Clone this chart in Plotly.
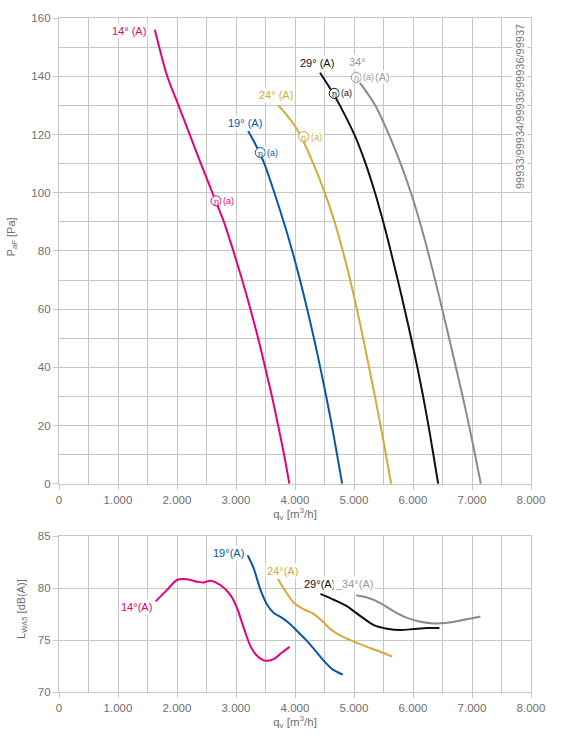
import plotly.graph_objects as go

# ---------------- data ----------------
x_tickvals = [0, 1000, 2000, 3000, 4000, 5000, 6000, 7000, 8000]
x_ticktext = ["0", "1.000", "2.000", "3.000", "4.000", "5.000", "6.000", "7.000", "8.000"]

angles = ["14°", "19°", "24°", "29°", "34°"]
colors = ["#e4007f", "#0b57a4", "#d4aa3c", "#111111", "#8a8a8a"]

# pressure curves  (q [m3/h], p [Pa])
q14 = [1624, 1835, 2025, 2215, 2405, 2600, 2795, 2955, 3105, 3245, 3375, 3495, 3610, 3715, 3815, 3905]
p14 = [156, 140, 130, 120, 110, 100, 90, 80, 70, 60, 50, 40, 30, 20, 10, 0]

q19 = [3205, 3320, 3480, 3650, 3808, 3953, 4085, 4207, 4321, 4428, 4529, 4625, 4713, 4800]
p19 = [121.2, 117, 110, 100, 90, 80, 70, 60, 50, 40, 30, 20, 10, 0]

q24 = [3720, 3925, 4085, 4310, 4505, 4670, 4810, 4935, 5050, 5155, 5255, 5355, 5450, 5542, 5630]
p24 = [130, 125, 120, 110, 100, 90, 80, 70, 60, 50, 40, 30, 20, 10, 0]

q29 = [4424, 4620, 4760, 5005, 5197, 5356, 5495, 5622, 5742, 5858, 5969, 6074, 6172, 6262, 6346, 6427]
p29 = [141.2, 135, 130, 120, 110, 100, 90, 80, 70, 60, 50, 40, 30, 20, 10, 0]

q34 = [5099, 5223, 5360, 5590, 5790, 5965, 6115, 6250, 6375, 6495, 6612, 6728, 6842, 6950, 7052, 7150]
p34 = [137.7, 134.3, 130, 120, 110, 100, 90, 80, 70, 60, 50, 40, 30, 20, 10, 0]

# sound power curves (q [m3/h], L_WA5 [dB(A)])
sq14 = [1638, 1831, 2000, 2170, 2339, 2452, 2565, 2735, 2904, 3017, 3130, 3243, 3356, 3497, 3639, 3780, 3910]
sl14 = [78.72, 79.83, 80.78, 80.85, 80.62, 80.53, 80.72, 80.3, 79.35, 78.1, 76.2, 74.44, 73.49, 73.01, 73.17, 73.8, 74.34]

sq19 = [3198, 3300, 3415, 3528, 3641, 3782, 3924, 4065, 4206, 4348, 4489, 4630, 4811]
sl19 = [83.16, 81.9, 79.83, 78.4, 77.6, 77.13, 76.5, 75.7, 74.9, 73.96, 73.0, 72.2, 71.67]

sq24 = [3709, 3839, 3980, 4150, 4319, 4461, 4602, 4771, 4941, 5167, 5393, 5647]
sl24 = [80.91, 79.7, 78.6, 77.96, 77.5, 76.84, 76.05, 75.42, 75.0, 74.47, 73.99, 73.42]

sq29 = [4432, 4658, 4884, 5110, 5336, 5562, 5788, 6014, 6240, 6449]
sl29 = [79.45, 78.88, 78.25, 77.3, 76.44, 76.09, 75.97, 76.06, 76.15, 76.15]

sq34 = [5037, 5223, 5449, 5675, 5901, 6127, 6353, 6579, 6805, 7144]
sl34 = [79.32, 79.1, 78.56, 77.77, 77.13, 76.76, 76.6, 76.66, 76.88, 77.26]

p_curves = [(q14, p14), (q19, p19), (q24, p24), (q29, p29), (q34, p34)]
s_curves = [(sq14, sl14), (sq19, sl19), (sq24, sl24), (sq29, sl29), (sq34, sl34)]

# label anchor positions (data coordinates)
p_label_pos = [(1500, 155.4), (3144, 124.1), (3675, 133.6), (4373, 144.5), (5051, 145.0)]
eta_pos = [(2661, 97.2), (3412, 113.8), (4146, 119.3), (4665, 134.1), (5039, 139.6)]
s_label_pos = [(1311, 78.15), (2870, 83.41), (3780, 81.67), (4407, 80.37), (5002, 80.37)]
s_label_text = ["14°(A)", "19°(A)", "24°(A)", "29°(A)", "_34°(A)"]
series_id = "99933/99934/99935/99936/99937"

# ---------------- figure ----------------
GRID = "#c6c6c6"
TXT = "#6f6f6f"
FONT = "Liberation Sans, Arial, sans-serif"

fig = go.Figure()
for (q, p), c in zip(p_curves, colors):
    fig.add_trace(go.Scatter(x=q, y=p, mode="lines", line=dict(color=c, width=2, shape="spline", smoothing=0.8),
                             xaxis="x", yaxis="y", showlegend=False, hoverinfo="skip"))
for (q, l), c in zip(s_curves, colors):
    fig.add_trace(go.Scatter(x=q, y=l, mode="lines", line=dict(color=c, width=2, shape="spline", smoothing=0.8),
                             xaxis="x2", yaxis="y2", showlegend=False, hoverinfo="skip"))

annotations = []
shapes = []

# top labels
for i, (a, c) in enumerate(zip(angles, colors)):
    x, y = p_label_pos[i]
    lc = "#9a9a9a" if i == 4 else c
    if i == 0:
        annotations.append(dict(x=x, y=y, xref="x", yref="y", text=a + " (A)", showarrow=False,
                                xanchor="right", font=dict(size=11, color=lc, family=FONT), bgcolor="white"))
    elif i == 4:
        annotations.append(dict(x=x, y=y, xref="x", yref="y", text=a, showarrow=False,
                                font=dict(size=11, color=lc, family=FONT), bgcolor="white"))
    else:
        annotations.append(dict(x=x, y=y, xref="x", yref="y", text=a + " (A)", showarrow=False,
                                font=dict(size=11, color=lc, family=FONT), bgcolor="white"))
    ex, ey = eta_pos[i]
    shapes.append(dict(type="circle", xref="x", yref="y", xsizemode="pixel", ysizemode="pixel",
                       xanchor=ex, yanchor=ey, x0=-5, x1=5, y0=-5, y1=5,
                       line=dict(color=lc, width=1), fillcolor="white", layer="above"))
    annotations.append(dict(x=ex, y=ey, xref="x", yref="y", text="η", showarrow=False, yshift=-1,
                            font=dict(size=9, color=lc, family=FONT)))
    annotations.append(dict(x=ex, y=ey, xref="x", yref="y", text="(a)", showarrow=False, xanchor="left",
                            xshift=5, font=dict(size=9, color=lc, family=FONT), bgcolor="white", borderpad=1))
    if i == 4:
        annotations.append(dict(x=ex, y=ey, xref="x", yref="y", text="(A)", showarrow=False, xanchor="left",
                                xshift=18, font=dict(size=11, color=lc, family=FONT), bgcolor="white", borderpad=0))

# bottom labels
for i, (t, c) in enumerate(zip(s_label_text, colors)):
    x, y = s_label_pos[i]
    annotations.append(dict(x=x, y=y, xref="x2", yref="y2", text=t, showarrow=False,
                            font=dict(size=11, color=("#9a9a9a" if i == 4 else c), family=FONT), bgcolor="white"))

# series id (inside the plot, next to the right border)
annotations.append(dict(x=0.98, y=0.8695, xref="paper", yref="paper", text=series_id, showarrow=False,
                        xshift=7, yshift=84,
                        textangle=-90, font=dict(size=11, color="#7a7a7a", family=FONT), bgcolor="white"))
# y titles
annotations.append(dict(x=0, y=0.6745, xref="paper", yref="paper", xshift=-47, text="P<sub>aF</sub> [Pa]",
                        xanchor="center", yanchor="middle",
                        showarrow=False, textangle=-90, font=dict(size=11, color=TXT, family=FONT)))
annotations.append(dict(x=0, y=0.1232, xref="paper", yref="paper", xshift=-37, text="L<sub>WA5</sub> [dB(A)]",
                        xanchor="center", yanchor="middle",
                        showarrow=False, textangle=-90, font=dict(size=11, color=TXT, family=FONT)))

xcommon = dict(range=[0, 8000], tickvals=x_tickvals, ticktext=x_ticktext, showgrid=True, gridcolor=GRID,
               gridwidth=1.3, minor=dict(dtick=500, tick0=0, showgrid=True, gridcolor=GRID, gridwidth=1.3),
               ticks="outside", ticklen=5, tickcolor=GRID, zeroline=False, showline=True, linecolor=GRID,
               linewidth=1.3, mirror=True, tickfont=dict(size=11.5, color=TXT, family=FONT),
               title=dict(text="q<sub>v</sub> [m<sup>3</sup>/h]", font=dict(size=11.5, color=TXT, family=FONT),
                          standoff=2))

fig.update_layout(
    width=562, height=736, margin=dict(l=59, r=31, t=13, b=41),
    paper_bgcolor="white", plot_bgcolor="white", showlegend=False,
    xaxis=dict(domain=[0, 1], anchor="y", **xcommon),
    yaxis=dict(domain=[0.3088, 1], range=[0, 160], anchor="x", dtick=20, tick0=0, showgrid=True, gridcolor=GRID,
               gridwidth=1.3, minor=dict(dtick=10, tick0=0, showgrid=True, gridcolor=GRID, gridwidth=1.3),
               ticks="outside", ticklen=5, tickcolor=GRID, zeroline=False, showline=True, linecolor=GRID,
               linewidth=1.3, mirror=True, tickfont=dict(size=11.5, color=TXT, family=FONT)),
    xaxis2=dict(domain=[0, 1], anchor="y2", **xcommon),
    yaxis2=dict(domain=[0, 0.2312], range=[70, 85], anchor="x2", dtick=5, tick0=70, showgrid=True, gridcolor=GRID,
                gridwidth=1.3, ticks="outside", ticklen=5, tickcolor=GRID, zeroline=False, showline=True,
                linecolor=GRID, linewidth=1.3, mirror=True, tickfont=dict(size=11.5, color=TXT, family=FONT)),
    annotations=annotations, shapes=shapes,
)

fig.write_html("out.html")
